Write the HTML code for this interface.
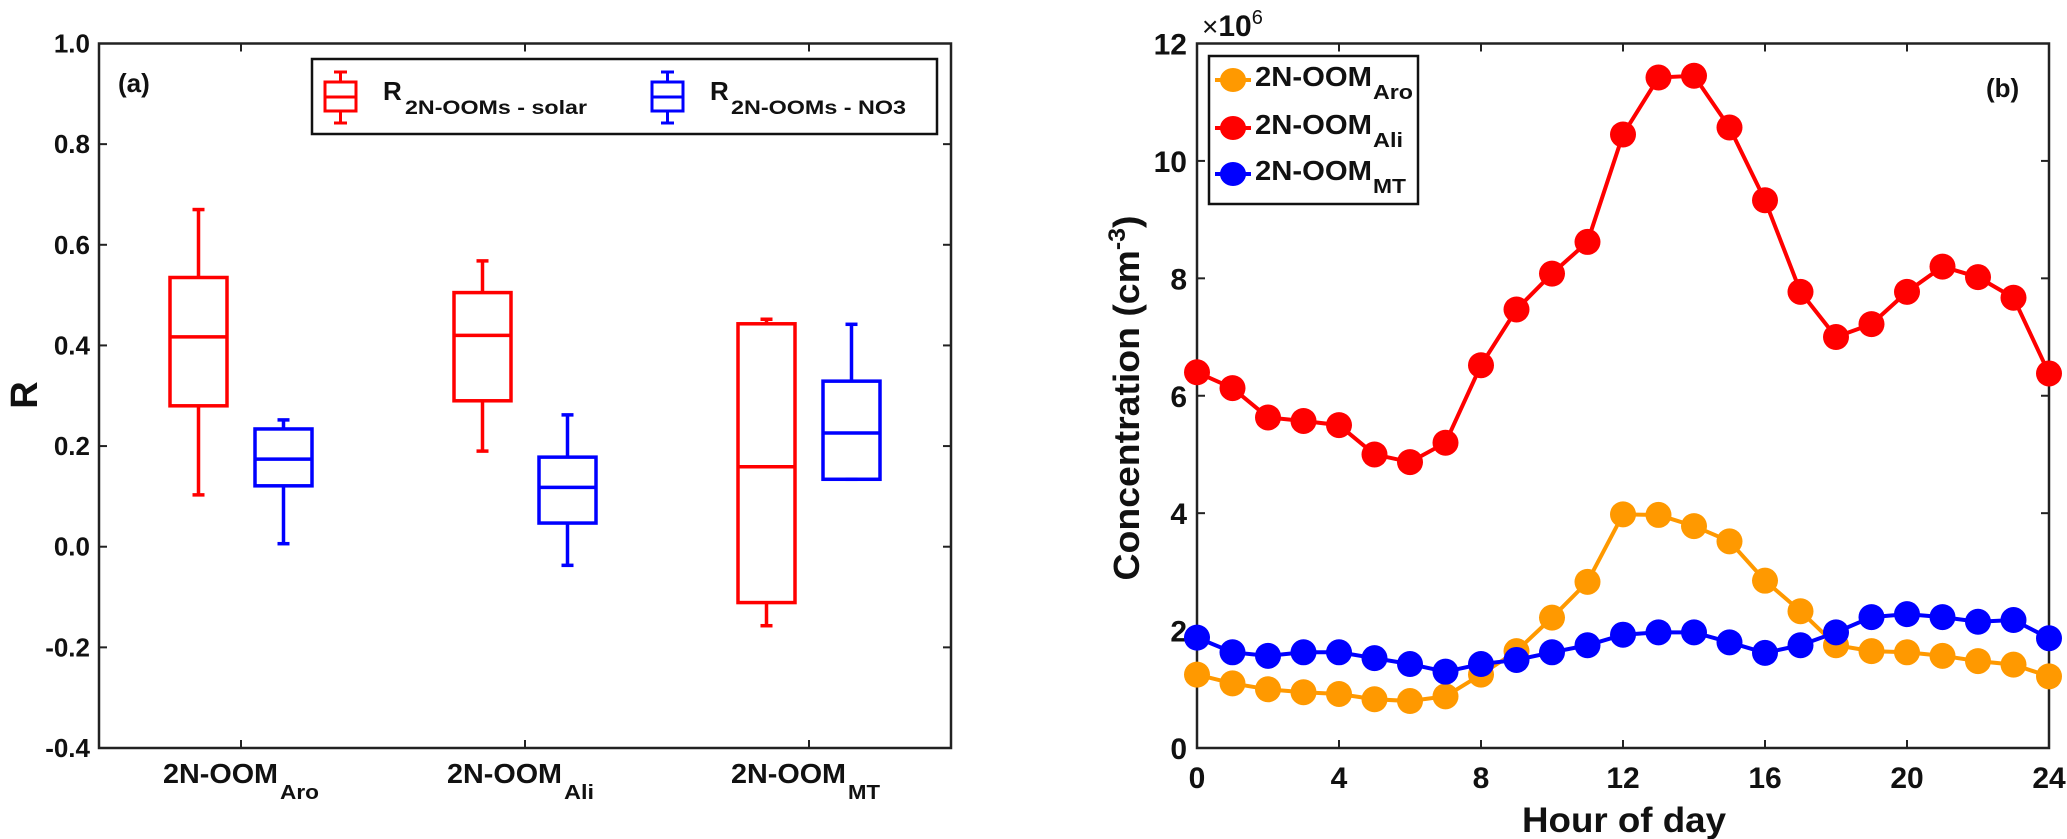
<!DOCTYPE html>
<html><head><meta charset="utf-8"><style>
html,body{margin:0;padding:0;background:#fff;}
svg{display:block;font-family:"Liberation Sans",Arial,sans-serif;font-weight:bold;}
</style></head><body>
<svg id="fig" width="2067" height="839" viewBox="0 0 2067 839" xmlns="http://www.w3.org/2000/svg">
<rect width="2067" height="839" fill="#fff"/>
<!-- Panel a static -->
<g id="pa">
  <rect x="99" y="43.5" width="852" height="704.5" fill="none" stroke="#222" stroke-width="2.5"/>
  <text x="118" y="92" font-size="26" fill="#111">(a)</text>
  <text transform="translate(37,395) rotate(-90)" text-anchor="middle" font-size="38" fill="#111">R</text>
  <g>
    <rect x="312" y="59" width="625" height="75" fill="#fff" stroke="#111" stroke-width="2.5"/>
    <g stroke="#f00" stroke-width="3" fill="none">
      <rect x="325" y="82" width="31" height="29"/><line x1="325" y1="97" x2="356" y2="97"/>
      <line x1="340.5" y1="72" x2="340.5" y2="82"/><line x1="340.5" y1="111" x2="340.5" y2="123"/>
      <line x1="334" y1="72" x2="347" y2="72"/><line x1="334" y1="123" x2="347" y2="123"/>
    </g>
    <text x="383" y="100" font-size="26" fill="#111">R</text>
    <text x="405" y="114" font-size="19" textLength="182" lengthAdjust="spacingAndGlyphs" fill="#111">2N-OOMs - solar</text>
    <g stroke="#00f" stroke-width="3" fill="none">
      <rect x="652" y="82" width="31" height="29"/><line x1="652" y1="97" x2="683" y2="97"/>
      <line x1="667.5" y1="72" x2="667.5" y2="82"/><line x1="667.5" y1="111" x2="667.5" y2="123"/>
      <line x1="661" y1="72" x2="674" y2="72"/><line x1="661" y1="123" x2="674" y2="123"/>
    </g>
    <text x="710" y="100" font-size="26" fill="#111">R</text>
    <text x="731" y="114" font-size="19" textLength="175" lengthAdjust="spacingAndGlyphs" fill="#111">2N-OOMs - NO3</text>
  </g>
</g>
<!-- Panel b static -->
<g id="pb">
  <rect x="1197" y="43.5" width="852" height="704.5" fill="none" stroke="#222" stroke-width="2.5"/>
  <text x="1986" y="97" font-size="26" fill="#111">(b)</text>
  <text x="1202" y="36" font-size="28" font-weight="normal" fill="#111">×<tspan font-weight="bold" font-size="30">10</tspan><tspan font-size="20" dy="-12">6</tspan></text>
  <text transform="translate(1139,398) rotate(-90)" text-anchor="middle" font-size="36" textLength="365" lengthAdjust="spacingAndGlyphs" fill="#111">Concentration (cm<tspan font-size="24" dy="-14">-3</tspan><tspan dy="14">)</tspan></text>
  <text x="1522" y="832" font-size="35" textLength="204" lengthAdjust="spacingAndGlyphs" fill="#111">Hour of day</text>
</g>
<g id="pbmarks"></g>
<g id="legb">
  <rect x="1209" y="56" width="209" height="148" fill="#fff" stroke="#111" stroke-width="2.5"/>
</g>
<script>
// ---------- Panel (a) data ----------
const catLabels = ["2N-OOM", "2N-OOM", "2N-OOM"];
const catSubs = ["Aro", "Ali", "MT"];
const solarLow = [0.103, 0.19, -0.157];
const solarQ1 = [0.28, 0.29, -0.111];
const solarMed = [0.417, 0.42, 0.159];
const solarQ3 = [0.535, 0.505, 0.443];
const solarHigh = [0.67, 0.568, 0.452];
const no3Low = [0.006, -0.037, 0.134];
const no3Q1 = [0.121, 0.047, 0.134];
const no3Med = [0.174, 0.118, 0.226];
const no3Q3 = [0.234, 0.178, 0.329];
const no3High = [0.252, 0.262, 0.442];
const aTicks = [1.0, 0.8, 0.6, 0.4, 0.2, 0.0, -0.2, -0.4];
const aTickLabels = ["1.0", "0.8", "0.6", "0.4", "0.2", "0.0", "-0.2", "-0.4"];

// ---------- Panel (b) data ----------
const hours = [0,1,2,3,4,5,6,7,8,9,10,11,12,13,14,15,16,17,18,19,20,21,22,23,24];
const aroVals = [1.25,1.1,1.0,0.95,0.92,0.83,0.8,0.88,1.25,1.65,2.22,2.83,3.98,3.97,3.78,3.52,2.85,2.33,1.75,1.65,1.63,1.57,1.48,1.42,1.22];
const aliVals = [6.4,6.13,5.63,5.57,5.5,5.0,4.87,5.2,6.52,7.47,8.08,8.62,10.45,11.42,11.45,10.57,9.33,7.77,7.0,7.22,7.77,8.2,8.02,7.67,6.38];
const mtVals = [1.88,1.63,1.57,1.63,1.63,1.53,1.43,1.30,1.43,1.50,1.63,1.75,1.93,1.97,1.97,1.80,1.62,1.75,1.97,2.23,2.28,2.23,2.15,2.18,1.87];
const bYTicks = [0, 2, 4, 6, 8, 10, 12];
const bXTicks = [0, 4, 8, 12, 16, 20, 24];
const seriesNames = ["Aro", "Ali", "MT"];

const NS = "http://www.w3.org/2000/svg";
function mk(tag, attrs, parent) {
  const e = document.createElementNS(NS, tag);
  for (const k in attrs) e.setAttribute(k, attrs[k]);
  parent.appendChild(e);
  return e;
}
const pa = document.getElementById("pa");
const pb = document.getElementById("pbmarks");
const legb = document.getElementById("legb");

// axes panel a
const aL = 99, aR = 951, aT = 43.5, aB = 748;
const ay = v => aB - (v - (-0.4)) / 1.4 * (aB - aT);
const ax = c => aL + (c + 0.5) * (aR - aL) / 3;

aTicks.forEach((v, i) => {
  const y = ay(v);
  const t1 = mk("line", {x1: aL, y1: y, x2: aL + 8, y2: y, stroke: "#222", "stroke-width": 2}, pa);
  
  
  const t2 = mk("line", {x1: aR, y1: y, x2: aR - 8, y2: y, stroke: "#222", "stroke-width": 2}, pa);
  
  
  const lb = mk("text", {x: 90, y: y + 9, "text-anchor": "end", "font-size": 26, fill: "#111"}, pa);
  lb.textContent = aTickLabels[i];
  
  
});

catLabels.forEach((lab, c) => {
  const x = ax(c);
  const tb = mk("line", {x1: x, y1: aB, x2: x, y2: aB - 8, stroke: "#222", "stroke-width": 2}, pa);
  
  
  const tt = mk("line", {x1: x, y1: aT, x2: x, y2: aT + 8, stroke: "#222", "stroke-width": 2}, pa);
  
  
  const t = mk("text", {x: x - 78, y: 783, "font-size": 28, textLength: 115, lengthAdjust: "spacingAndGlyphs", fill: "#111"}, pa);
  t.textContent = lab;
  
  
  const subW = catSubs[c] === "MT" ? 32 : (catSubs[c] === "Ali" ? 30 : 39);
  const s = mk("text", {x: x + 39, y: 799, "font-size": 20, textLength: subW, lengthAdjust: "spacingAndGlyphs", fill: "#111"}, pa);
  s.textContent = catSubs[c];
  
  
});

function drawBox(c, off, low, q1, med, q3, high, color, name) {
  const cx = ax(c) + off;
  const w = 57;
  const g = mk("g", {stroke: color, "stroke-width": 3.5, fill: "none"}, pa);
  
  
  mk("rect", {x: cx - w / 2, y: ay(q3), width: w, height: ay(q1) - ay(q3)}, g);
  mk("line", {x1: cx - w / 2, y1: ay(med), x2: cx + w / 2, y2: ay(med)}, g);
  mk("line", {x1: cx, y1: ay(high), x2: cx, y2: ay(q3)}, g);
  mk("line", {x1: cx, y1: ay(q1), x2: cx, y2: ay(low)}, g);
  mk("line", {x1: cx - 6, y1: ay(high), x2: cx + 6, y2: ay(high)}, g);
  mk("line", {x1: cx - 6, y1: ay(low), x2: cx + 6, y2: ay(low)}, g);
}
for (let c = 0; c < 3; c++) {
  drawBox(c, -42.5, solarLow[c], solarQ1[c], solarMed[c], solarQ3[c], solarHigh[c], "#f00", "box-solar-" + catSubs[c].toLowerCase());
  drawBox(c, 42.5, no3Low[c], no3Q1[c], no3Med[c], no3Q3[c], no3High[c], "#00f", "box-no3-" + catSubs[c].toLowerCase());
}

// axes panel b
const bL = 1197, bR = 2049, bT = 43.5, bB = 748;
const bx = h => bL + h / 24 * (bR - bL);
const by = v => bB - v / 12 * (bB - bT);
bYTicks.forEach(v => {
  const y = by(v);
  const t1 = mk("line", {x1: bL, y1: y, x2: bL + 8, y2: y, stroke: "#222", "stroke-width": 2}, pb);
  
  
  const t2 = mk("line", {x1: bR, y1: y, x2: bR - 8, y2: y, stroke: "#222", "stroke-width": 2}, pb);
  
  
  const lb = mk("text", {x: 1187, y: y + 11, "text-anchor": "end", "font-size": 30, fill: "#111"}, pb);
  lb.textContent = String(v);
  
  
});
bXTicks.forEach(h => {
  const x = bx(h);
  const t1 = mk("line", {x1: x, y1: bB, x2: x, y2: bB - 8, stroke: "#222", "stroke-width": 2}, pb);
  
  
  const t2 = mk("line", {x1: x, y1: bT, x2: x, y2: bT + 8, stroke: "#222", "stroke-width": 2}, pb);
  
  
  const lb = mk("text", {x: x, y: 788, "text-anchor": "middle", "font-size": 30, fill: "#111"}, pb);
  lb.textContent = String(h);
  
  
});

const seriesVals = [aroVals, aliVals, mtVals];
const seriesColors = ["#ff9900", "#ff0000", "#0000ff"];
seriesVals.forEach((vals, s) => {
  const g = mk("g", {}, pb);
  
  
  const pts = hours.map((h, i) => bx(h) + "," + by(vals[i])).join(" ");
  const pl = mk("polyline", {points: pts, fill: "none", stroke: seriesColors[s], "stroke-width": 4}, g);
  
  
  hours.forEach((h, i) => {
    const m = mk("ellipse", {cx: bx(h), cy: by(vals[i]), rx: 13, ry: 13, fill: seriesColors[s]}, g);
    
    
  });
});

// legend b entries
const legY = [80, 128, 174];
const legSubW = [40, 30, 33];
seriesNames.forEach((n, i) => {
  const y = legY[i];
  const ln = mk("line", {x1: 1215, y1: y, x2: 1251, y2: y, stroke: seriesColors[i], "stroke-width": 4}, legb);
  
  
  const mkr = mk("ellipse", {cx: 1233, cy: y, rx: 13, ry: 12, fill: seriesColors[i]}, legb);
  
  
  const t = mk("text", {x: 1255, y: y + 6, "font-size": 28, textLength: 117, lengthAdjust: "spacingAndGlyphs", fill: "#111"}, legb);
  t.textContent = "2N-OOM";
  
  
  const sb = mk("text", {x: 1373, y: y + 19, "font-size": 20, textLength: legSubW[i], lengthAdjust: "spacingAndGlyphs", fill: "#111"}, legb);
  sb.textContent = n;
  
  
});
</script>
</svg>
</body></html>
